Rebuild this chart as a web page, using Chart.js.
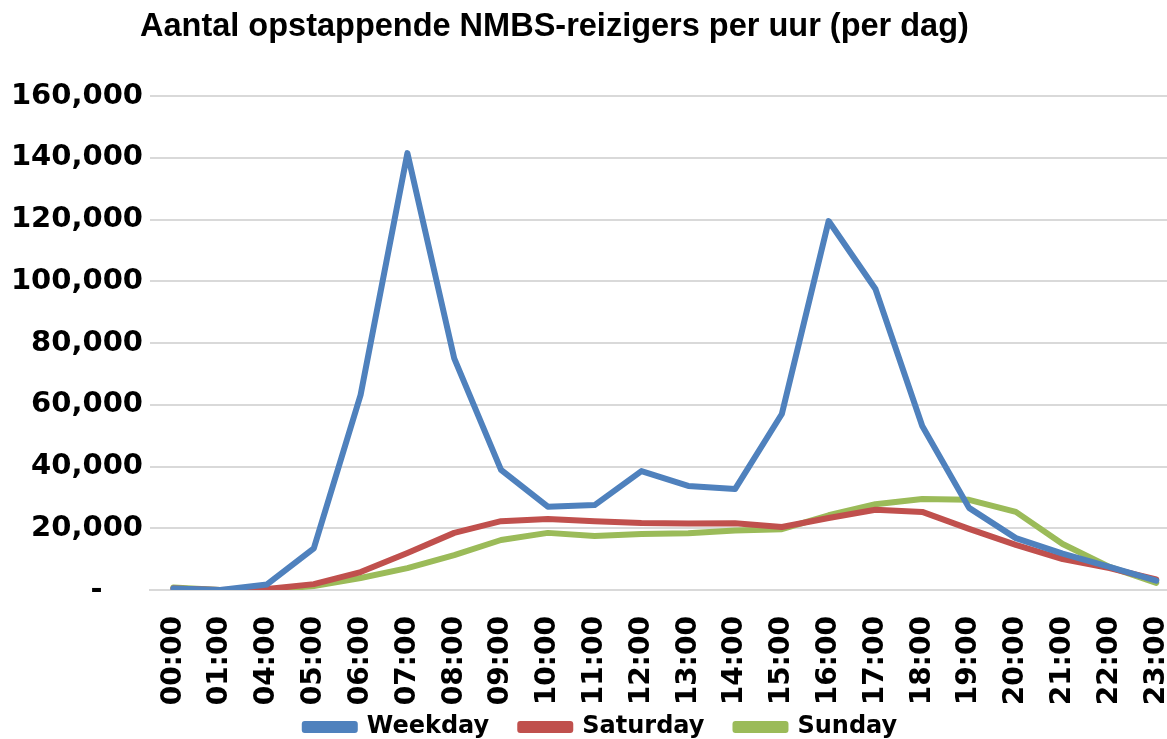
<!DOCTYPE html>
<html>
<head>
<meta charset="utf-8">
<script src="https://cdn.jsdelivr.net/npm/chart.js@4"></script>
<style>
  html, body { margin: 0; padding: 0; background: #fff; overflow: hidden; }
  #wrap { position: relative; width: 1208px; height: 749px; }
  #title {
    position: absolute; left: 140px; top: 7px;
    font: bold 32.5px "Liberation Sans", Arial, sans-serif; color: #000;
    white-space: nowrap;
  }
</style>
</head>
<body>
<div id="wrap">
  <canvas id="chart" width="1208" height="749"></canvas>
  <div id="title">Aantal opstappende NMBS-reizigers per uur (per dag)</div>
</div>
<script>
// --- data ---
const hours = ['00:00', '01:00', '04:00', '05:00', '06:00', '07:00', '08:00', '09:00', '10:00', '11:00', '12:00',
               '13:00', '14:00', '15:00', '16:00', '17:00', '18:00', '19:00', '20:00', '21:00', '22:00', '23:00'];
const weekday  = [500, 0, 1800, 13500, 63200, 141500, 75000, 38900, 27000, 27500, 38500,
                  33700, 32700, 57000, 119500, 97500, 53100, 26600, 16800, 11800, 7500, 3000];
const saturday = [500, 0, 300, 1900, 5800, 12000, 18500, 22300, 23000, 22300, 21700,
                  21500, 21600, 20400, 23300, 26000, 25300, 19800, 14600, 10000, 7100, 3400];
const sunday   = [800, 0, 0, 1300, 3900, 7100, 11300, 16200, 18500, 17500, 18100,
                  18400, 19300, 19700, 24200, 27800, 29500, 29200, 25300, 14900, 7500, 2300];
const yMax = 160000;
const yStep = 20000;

const gridColor = '#D9D9D9';
const tickFont = { family: 'DejaVu Sans', weight: 'bold', size: 29 };

function series(label, data, color) {
    return {
        label: label,
        data: data,
        borderColor: color,
        backgroundColor: color,
        borderWidth: 6,
        pointRadius: 0,
        tension: 0,
        borderJoinStyle: 'round',
        borderCapStyle: 'round'
    };
}

new Chart(document.getElementById('chart'), {
    type: 'line',
    data: {
        labels: hours,
        datasets: [
            series('Weekday', weekday, '#4F81BD'),
            series('Saturday', saturday, '#C0504D'),
            series('Sunday', sunday, '#9BBB59')
        ]
    },
    options: {
        responsive: false,
        animation: false,
        layout: { padding: { top: 96, right: 6, left: 0, bottom: 0 } },
        plugins: {
            title: { display: false },
            tooltip: { enabled: false },
            legend: {
                position: 'bottom',
                labels: {
                    color: '#000',
                    font: { family: 'DejaVu Sans', weight: 'bold', size: 24 },
                    boxWidth: 50,
                    boxHeight: 6,
                    padding: 6,
                    // wider gap between items without a tall legend box
                    generateLabels: (chart) => {
                        const items = Chart.defaults.plugins.legend.labels.generateLabels(chart);
                        items.forEach((it, i) => { if (i < items.length - 1) it.text += '   '; });
                        return items;
                    }
                }
            }
        },
        scales: {
            x: {
                offset: true,
                grid: { display: false },
                border: { display: true, color: gridColor, width: 2 },
                ticks: {
                    color: '#000',
                    font: { family: 'DejaVu Sans', weight: 'bold', size: 28 },
                    maxRotation: 90,
                    minRotation: 90,
                    autoSkip: false,
                    padding: 18
                },
                afterFit: (s) => { s.height = 119; }
            },
            y: {
                min: 0,
                max: yMax,
                border: { display: false },
                grid: { color: gridColor, lineWidth: 2, drawTicks: false },
                ticks: {
                    stepSize: yStep,
                    color: '#000',
                    font: tickFont,
                    padding: 7,
                    callback: (v) => v === 0 ? '-    ' : v.toLocaleString('en-US')
                },
                afterFit: (s) => { s.width = 150; }
            }
        }
    }
});
</script>
</body>
</html>
